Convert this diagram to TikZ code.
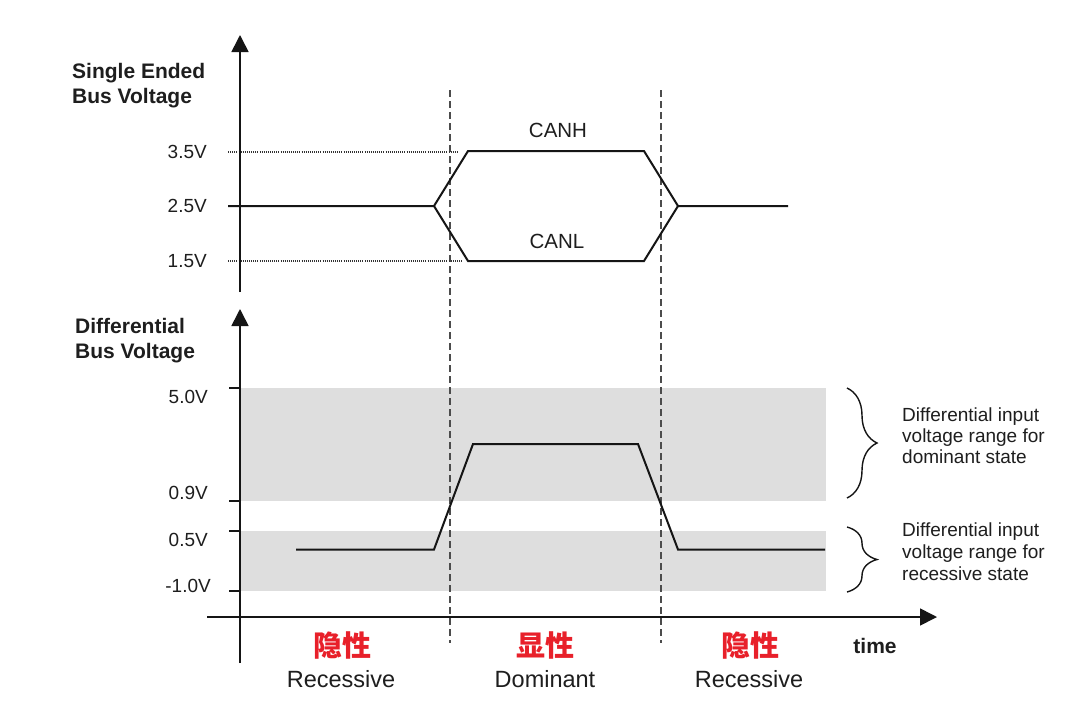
\documentclass[tikz,border=0pt]{standalone}
\usepackage{fontspec}
\setmainfont{Liberation Sans}
\newfontfamily\cjkfont{Noto Sans CJK SC}
\usetikzlibrary{arrows.meta,decorations.pathreplacing}
\definecolor{bandgray}{HTML}{DEDEDE}
\definecolor{txt}{HTML}{1E1E1E}
\definecolor{cnred}{HTML}{E8202A}
\definecolor{linec}{HTML}{151515}
\begin{document}
\begin{tikzpicture}[x=1pt,y=-1pt,
  axis/.style={line width=1.6pt, draw=linec},
  axarrow/.style={-{Triangle[length=17pt,width=17pt]}},
  sig/.style={line width=2pt, draw=linec, line join=miter},
  tick/.style={line width=1.2pt, draw=linec},
  dotl/.style={line width=1.1pt, draw=black!80, dash pattern=on 1pt off 1.1pt},
  dashl/.style={line width=1.4pt, draw=black!70, dash pattern=on 7pt off 4pt},
  band/.style={fill=bandgray, draw=none},
  lab/.style={font=\fontsize{19}{22}\selectfont, text=txt, inner sep=0pt},
  blab/.style={font=\fontsize{21}{25}\selectfont\bfseries, text=txt, inner sep=0pt},
  big/.style={font=\fontsize{23.5}{28}\selectfont, text=txt, inner sep=0pt},
  cn/.style={font=\fontsize{29}{32}\selectfont\cjkfont\bfseries, text=cnred, inner sep=0pt},
  brc/.style={decorate, decoration={brace, amplitude=30pt, aspect=0.5}, line width=1.4pt, draw=linec}
]
\useasboundingbox[fill=white] (0,0) rectangle (1092,726);

% bands
\fill[band] (240,388) rectangle (826,501);
\fill[band] (240,531) rectangle (826,591);

% dashed boundaries
\coordinate (d1t) at (450,90);  \coordinate (d1b) at (450,643);
\coordinate (d2t) at (661,90);  \coordinate (d2b) at (661,643);
\draw[dashl] (d1t) -- (d1b);
\draw[dashl] (d2t) -- (d2b);

% dotted reference lines
\coordinate (h35a) at (228,152); \coordinate (h35b) at (458,152);
\coordinate (h15a) at (228,261); \coordinate (h15b) at (462,261);
\draw[dotl] (h35a) -- (h35b);
\draw[dotl] (h15a) -- (h15b);

% single ended signals
\coordinate (s0) at (228,206);
\coordinate (sp) at (434,206);
\coordinate (h1) at (468,151);
\coordinate (h2) at (644,151);
\coordinate (sm) at (678,206);
\coordinate (se) at (788,206);
\coordinate (l1) at (468,261);
\coordinate (l2) at (644,261);
\draw[sig] (s0) -- (sp) -- (h1) -- (h2) -- (sm) -- (se);
\draw[sig] (sp) -- (l1) -- (l2) -- (sm);

% differential signal
\coordinate (f0) at (296,549.5);
\coordinate (f1) at (434,549.5);
\coordinate (f2) at (473,444);
\coordinate (f3) at (638,444);
\coordinate (f4) at (678,549.5);
\coordinate (f5) at (825,549.5);
\draw[sig] (f0) -- (f1) -- (f2) -- (f3) -- (f4) -- (f5);

% axes
\coordinate (ya0) at (240,292); \coordinate (ya1) at (240,35);
\coordinate (yb0) at (240,663); \coordinate (yb1) at (240,309);
\coordinate (t0) at (207,617);  \coordinate (t1) at (937,617);
\draw[axis,axarrow] (ya0) -- (ya1);
\draw[axis,axarrow] (yb0) -- (yb1);
\draw[axis,axarrow] (t0) -- (t1);

% ticks lower
\foreach \yy/\nm in {388/ta,501/tb,531/tc,591/td}{
  \coordinate (\nm0) at (229,\yy); \coordinate (\nm1) at (240,\yy);
  \draw[tick] (\nm0) -- (\nm1);
}

% braces
\coordinate (b1t) at (847,388); \coordinate (b1b) at (847,498);
\coordinate (b2t) at (847,527); \coordinate (b2b) at (847,592);
\draw[brc] (b1t) -- (b1b);
\draw[brc] (b2t) -- (b2b);

% axis titles
\node[blab, anchor=base west] (st1) at (72,78) {Single Ended};
\node[blab, anchor=base west] (st2) at (72,103) {Bus Voltage};
\node[blab, anchor=base west] (dt1) at (75,333) {Differential};
\node[blab, anchor=base west] (dt2) at (75,358) {Bus Voltage};

% voltage labels
\node[lab, anchor=east] (v35) at (207,152) {3.5V};
\node[lab, anchor=east] (v25) at (207,206) {2.5V};
\node[lab, anchor=east] (v15) at (207,261) {1.5V};
\node[lab, anchor=east] (v50) at (208,397) {5.0V};
\node[lab, anchor=east] (v09) at (208,493) {0.9V};
\node[lab, anchor=east] (v05) at (208,540) {0.5V};
\node[lab, anchor=east] (vm1) at (211,586) {-1.0V};

% signal names
\node[lab, font=\fontsize{20.5}{24}\selectfont, anchor=base] (canh) at (558,137) {CANH};
\node[lab, font=\fontsize{20.5}{24}\selectfont, anchor=base] (canl) at (557,248) {CANL};

% brace texts
\node[lab, anchor=base west] (r1a) at (902,421) {Differential input};
\node[lab, anchor=base west] (r1b) at (902,442) {voltage range for};
\node[lab, anchor=base west] (r1c) at (902,463) {dominant state};
\node[lab, anchor=base west] (r2a) at (902,536) {Differential input};
\node[lab, anchor=base west] (r2b) at (902,558) {voltage range for};
\node[lab, anchor=base west] (r2c) at (902,580) {recessive state};

% state labels
\node[cn] (c1) at (342,645) {隐性};
\node[cn] (c2) at (545,645) {显性};
\node[cn] (c3) at (750,645) {隐性};
\node[big, anchor=base] (e1) at (341,687) {Recessive};
\node[big, anchor=base] (e2) at (545,687) {Dominant};
\node[big, anchor=base] (e3) at (749,687) {Recessive};
\node[blab, anchor=base] (tm) at (875,653) {time};
\end{tikzpicture}
\end{document}
